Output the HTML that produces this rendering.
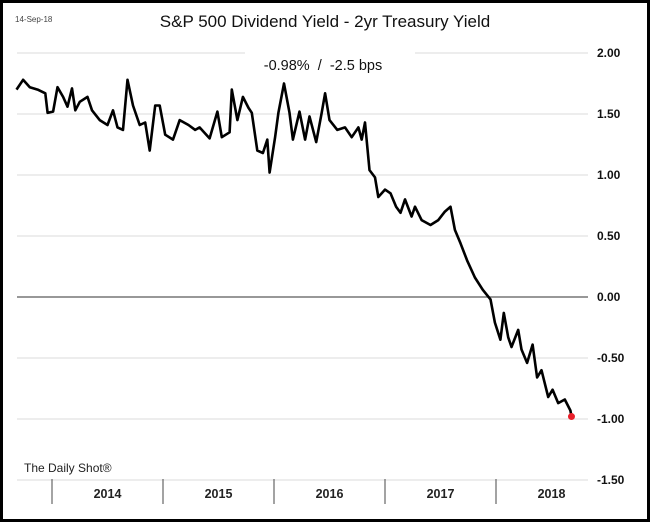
<!DOCTYPE html>
<html><head><meta charset="utf-8"><style>
html,body{margin:0;padding:0;background:#fff}
svg{display:block;font-family:"Liberation Sans",sans-serif}
</style></head><body>
<svg id="chart" width="650" height="522" viewBox="0 0 650 522">
<rect x="1.5" y="1.5" width="647" height="519" fill="#fff" stroke="#000" stroke-width="3"/>
<g id="grid"></g>
<g id="xaxis"></g>
<path id="line" fill="none" stroke="#000" stroke-width="2.6" stroke-linejoin="round"/>
<circle id="lastdot" r="3.5" fill="#e8202a"/>
<rect x="245" y="44" width="170" height="22" fill="#fff"/>
<text x="15" y="22" font-size="8" fill="#444">14-Sep-18</text>
<text x="325" y="27" font-size="17" text-anchor="middle" fill="#111">S&amp;P 500 Dividend Yield - 2yr Treasury Yield</text>
<text x="323" y="70" font-size="14.5" text-anchor="middle" fill="#111">-0.98%&#160;&#160;/&#160;&#160;-2.5 bps</text>
<text x="24" y="472" font-size="12" fill="#222">The Daily Shot®</text>
</svg>
<script>
const dates=[2013.68,2013.74,2013.80,2013.87,2013.94,2013.96,2014.01,2014.05,2014.10,2014.14,2014.18,2014.21,2014.25,2014.32,2014.36,2014.43,2014.50,2014.55,2014.59,2014.64,2014.68,2014.73,2014.79,2014.84,2014.88,2014.93,2014.97,2015.02,2015.09,2015.15,2015.23,2015.29,2015.33,2015.42,2015.49,2015.53,2015.60,2015.62,2015.67,2015.72,2015.77,2015.80,2015.85,2015.90,2015.94,2015.96,2016.01,2016.04,2016.09,2016.14,2016.17,2016.23,2016.28,2016.32,2016.38,2016.43,2016.46,2016.50,2016.57,2016.64,2016.70,2016.76,2016.79,2016.82,2016.86,2016.91,2016.94,2017.00,2017.05,2017.10,2017.14,2017.18,2017.24,2017.27,2017.33,2017.41,2017.48,2017.54,2017.59,2017.63,2017.68,2017.74,2017.81,2017.88,2017.95,2017.99,2018.04,2018.07,2018.11,2018.14,2018.20,2018.23,2018.28,2018.33,2018.37,2018.41,2018.47,2018.51,2018.56,2018.62,2018.67,2018.68];
const values=[1.70,1.78,1.72,1.70,1.67,1.51,1.52,1.72,1.64,1.56,1.71,1.53,1.60,1.64,1.53,1.45,1.41,1.53,1.39,1.37,1.78,1.57,1.41,1.43,1.20,1.57,1.57,1.33,1.29,1.45,1.41,1.37,1.39,1.30,1.52,1.31,1.35,1.70,1.45,1.64,1.55,1.51,1.20,1.18,1.29,1.02,1.31,1.51,1.75,1.51,1.29,1.52,1.29,1.48,1.27,1.51,1.67,1.45,1.37,1.39,1.31,1.39,1.29,1.43,1.04,0.98,0.82,0.88,0.85,0.74,0.69,0.80,0.66,0.74,0.63,0.59,0.63,0.70,0.74,0.55,0.44,0.30,0.16,0.06,-0.02,-0.21,-0.35,-0.13,-0.33,-0.41,-0.27,-0.43,-0.54,-0.39,-0.66,-0.60,-0.82,-0.76,-0.87,-0.84,-0.93,-0.98];
const yTicks=[2.00,1.50,1.00,0.50,0.00,-0.50,-1.00,-1.50];
const yTickLabels=["2.00","1.50","1.00","0.50","0.00","-0.50","-1.00","-1.50"];
const years=[2014,2015,2016,2017,2018];
const NS="http://www.w3.org/2000/svg";
const X=t=>52+(t-2014)*111;
const Y=v=>297-v*122;
const grid=document.getElementById('grid');
yTicks.forEach((v,i)=>{
  const l=document.createElementNS(NS,'line');
  l.setAttribute('x1',17);l.setAttribute('x2',588);
  l.setAttribute('y1',Y(v));l.setAttribute('y2',Y(v));
  l.setAttribute('stroke',v===0?'#777':'#e2e2e2');
  l.setAttribute('stroke-width',v===0?1.5:1.2);
  
  
  grid.appendChild(l);
  const t=document.createElementNS(NS,'text');
  t.setAttribute('x',597);t.setAttribute('y',Y(v)+4);
  t.setAttribute('font-size','12');t.setAttribute('font-weight','bold');t.setAttribute('fill','#111');
  t.textContent=yTickLabels[i];
  
  
  grid.appendChild(t);
});
const xa=document.getElementById('xaxis');
years.forEach(yr=>{
  const l=document.createElementNS(NS,'line');
  l.setAttribute('x1',X(yr));l.setAttribute('x2',X(yr));
  l.setAttribute('y1',479);l.setAttribute('y2',504);
  l.setAttribute('stroke','#666');l.setAttribute('stroke-width',1.2);
  
  
  xa.appendChild(l);
  const t=document.createElementNS(NS,'text');
  t.setAttribute('x',X(yr+0.5));t.setAttribute('y',498);
  t.setAttribute('text-anchor','middle');t.setAttribute('font-size','12.5');t.setAttribute('font-weight','bold');t.setAttribute('fill','#222');
  t.textContent=yr;
  
  
  xa.appendChild(t);
});
let d='';
dates.forEach((t,i)=>{d+=(i?'L':'M')+X(t).toFixed(1)+','+Y(values[i]).toFixed(1);});
document.getElementById('line').setAttribute('d',d);
const dot=document.getElementById('lastdot');
dot.setAttribute('cx',X(dates[dates.length-1]));
dot.setAttribute('cy',Y(values[values.length-1]));
</script>
</body></html>
